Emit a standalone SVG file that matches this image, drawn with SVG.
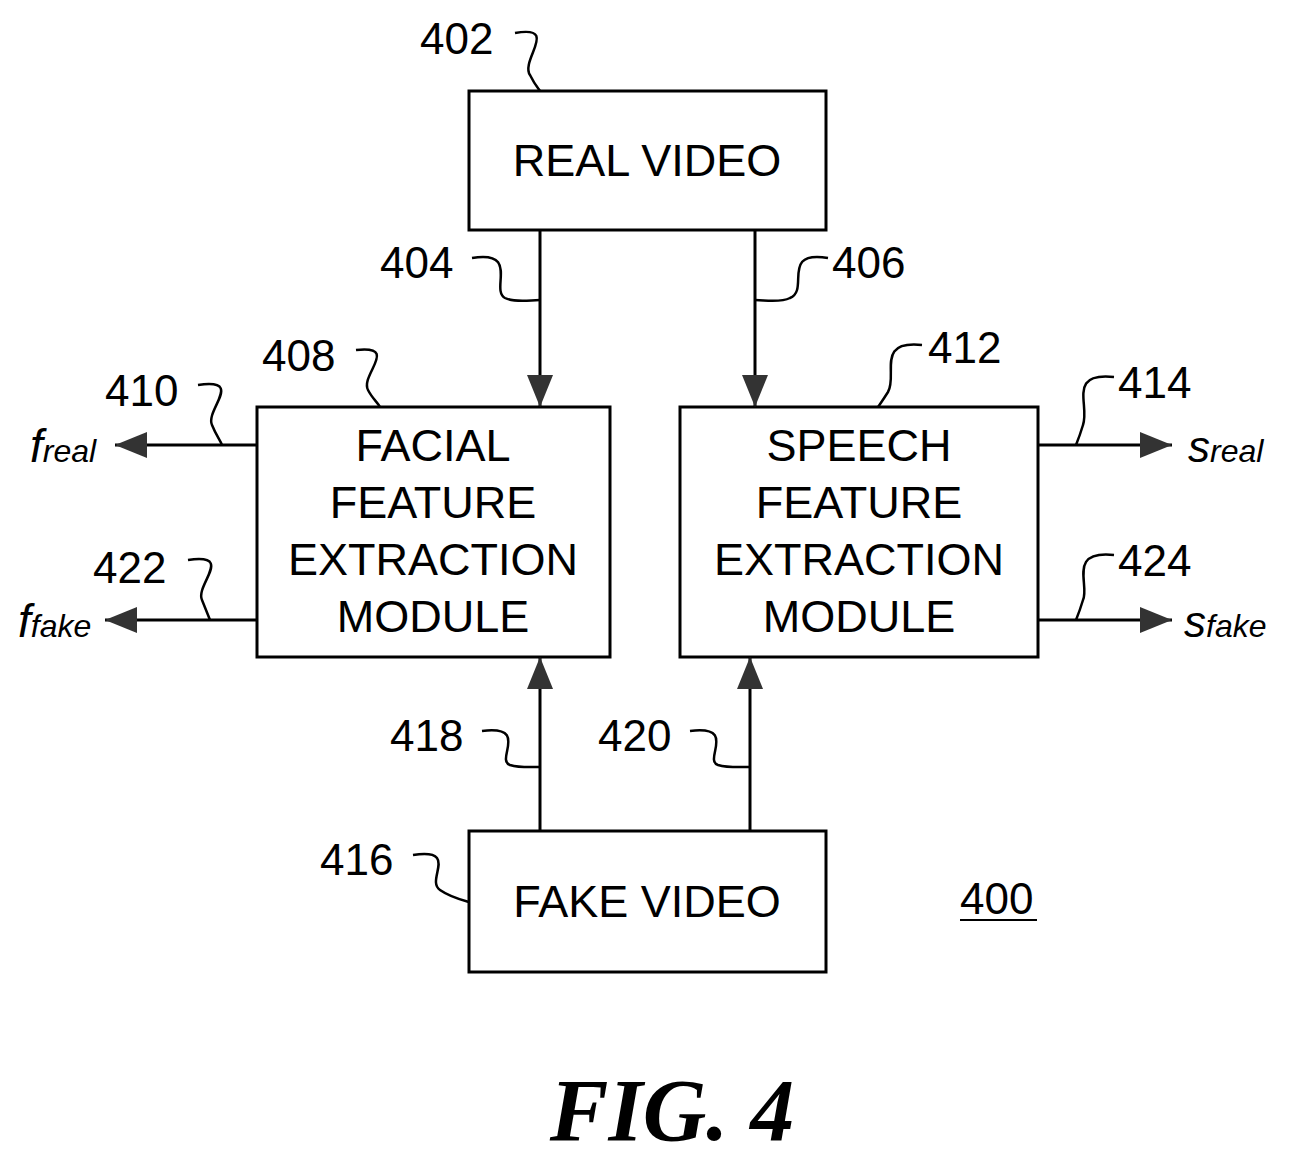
<svg xmlns="http://www.w3.org/2000/svg" width="1298" height="1164" viewBox="0 0 1298 1164">
<style>
.b{fill:#fff;stroke:#000;stroke-width:3}
.t{font-family:"Liberation Sans",Arial,sans-serif;font-size:45px;text-anchor:middle}
.l{font-family:"Liberation Sans",Arial,sans-serif;font-size:44px}
.i{font-family:"Liberation Sans",Arial,sans-serif;font-style:italic}
.c{fill:none;stroke:#000;stroke-width:3}
.s{fill:none;stroke:#000;stroke-width:2.5}
</style>
<defs>
<marker id="m" viewBox="0 0 32 26" refX="32" refY="13" markerWidth="32" markerHeight="26" orient="auto" markerUnits="userSpaceOnUse"><path d="M0,0L32,13L0,26z" fill="#333"/></marker></defs>
<g id="n402"><rect class="b" x="469" y="91" width="357" height="139"/><text class="t" x="647" y="176">REAL VIDEO</text></g>
<g id="n408"><rect class="b" x="257" y="407" width="353" height="250"/><text class="t" x="433" y="461">FACIAL</text><text class="t" x="433" y="518">FEATURE</text><text class="t" x="433" y="575">EXTRACTION</text><text class="t" x="433" y="632">MODULE</text></g>
<g id="n412"><rect class="b" x="680" y="407" width="358" height="250"/><text class="t" x="859" y="461">SPEECH</text><text class="t" x="859" y="518">FEATURE</text><text class="t" x="859" y="575">EXTRACTION</text><text class="t" x="859" y="632">MODULE</text></g>
<g id="n416"><rect class="b" x="469" y="831" width="357" height="141"/><text class="t" x="647" y="917">FAKE VIDEO</text></g>
<g id="connectors">
<path class="c" d="M540,230V407" marker-end="url(#m)"/>
<path class="c" d="M755,230V407" marker-end="url(#m)"/>
<path class="c" d="M540,831V657" marker-end="url(#m)"/>
<path class="c" d="M750,831V657" marker-end="url(#m)"/>
<path class="c" d="M257,445H115" marker-end="url(#m)"/>
<path class="c" d="M257,620H105" marker-end="url(#m)"/>
<path class="c" d="M1038,445H1172" marker-end="url(#m)"/>
<path class="c" d="M1038,620H1172" marker-end="url(#m)"/>
</g>
<g id="labels">
<text class="l" x="420" y="54">402</text><path class="s" d="M515,33C560,25 520,60 530,75C535,85 538,88 540,91"/>
<text class="l" x="380" y="278">404</text><path class="s" d="M472,258C520,250 490,290 505,298C515,303 530,300 540,300"/>
<text class="l" x="832" y="278">406</text><path class="s" d="M828,258C780,250 810,290 790,298C780,303 765,300 755,300"/>
<text class="l" x="262" y="371">408</text><path class="s" d="M356,350C400,345 360,375 368,390C372,398 378,403 380,407"/>
<text class="l" x="105" y="406">410</text><path class="s" d="M198,385C245,378 205,410 212,425C216,435 220,440 222,445"/>
<text class="l" x="928" y="363">412</text><path class="s" d="M922,345C875,340 898,375 888,392C883,400 880,404 878,407"/>
<text class="l" x="1118" y="398">414</text><path class="s" d="M1114,377C1067,372 1090,405 1083,425C1080,435 1078,440 1076,445"/>
<text class="l" x="93" y="583">422</text><path class="s" d="M188,560C235,553 195,585 202,600C206,610 208,615 210,620"/>
<text class="l" x="1118" y="576">424</text><path class="s" d="M1114,555C1067,550 1090,585 1083,600C1080,610 1078,615 1076,620"/>
<text class="l" x="390" y="751">418</text><path class="s" d="M482,731C530,725 495,760 510,765C520,768 530,767 540,767"/>
<text class="l" x="598" y="751">420</text><path class="s" d="M690,731C738,725 703,760 718,765C728,768 740,767 750,767"/>
<text class="l" x="320" y="875">416</text><path class="s" d="M413,855C460,848 425,880 440,890C450,897 462,900 469,902"/>
<text class="l" x="960" y="914">400</text><path d="M960,920H1037" stroke="#000" stroke-width="2"/>
<text class="i" x="30" y="462" font-size="46">f<tspan font-size="32">real</tspan></text>
<text class="i" x="18" y="637" font-size="46">f<tspan font-size="32">fake</tspan></text>
<text class="i" x="1188" y="462" font-size="44">s<tspan font-size="32">real</tspan></text>
<text class="i" x="1184" y="637" font-size="44">s<tspan font-size="32">fake</tspan></text>
<text x="672" y="1140" font-family="'Liberation Serif',serif" font-weight="bold" font-style="italic" font-size="88" text-anchor="middle">FIG. 4</text>
</g>
</svg>
